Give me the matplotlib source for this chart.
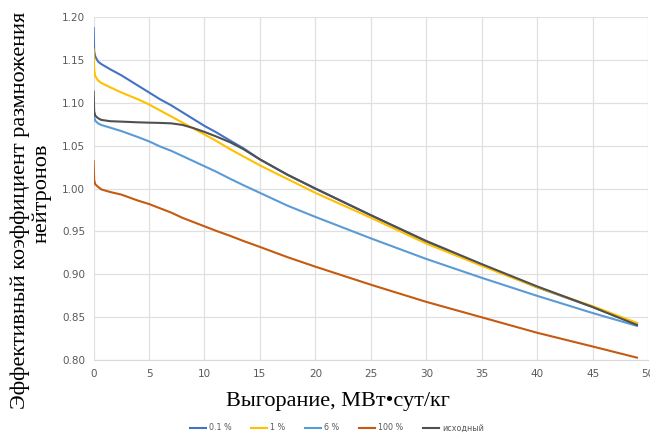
import matplotlib.pyplot as plt
import numpy as np

# burnup, MW*day/kg
x = [0, 0.05, 0.15, 0.4, 0.7, 1.5, 2.5, 4, 5, 6, 7, 8, 9, 10, 11, 12.3, 13.5,
     15, 17.5, 20, 25, 30, 35, 40, 45, 49]

k_01 = [1.187, 1.160, 1.154, 1.148, 1.145, 1.139, 1.132, 1.120, 1.112, 1.104, 1.097,
        1.089, 1.081, 1.073, 1.066, 1.056, 1.047, 1.034, 1.016, 1.000, 0.969, 0.938,
        0.911, 0.885, 0.862, 0.842]
k_1 = [1.162, 1.138, 1.131, 1.126, 1.123, 1.118, 1.112, 1.104, 1.098, 1.091, 1.084,
       1.077, 1.070, 1.063, 1.056, 1.046, 1.0375, 1.027, 1.011, 0.995, 0.966, 0.936,
       0.910, 0.885, 0.863, 0.8435]
k_6 = [1.086, 1.083, 1.079, 1.076, 1.074, 1.071, 1.067, 1.060, 1.055, 1.049, 1.044,
       1.038, 1.032, 1.026, 1.020, 1.0115, 1.004, 0.995, 0.980, 0.967, 0.942, 0.918,
       0.896, 0.875, 0.855, 0.840]
k_100 = [1.032, 1.010, 1.005, 1.002, 0.999, 0.996, 0.993, 0.986, 0.982, 0.977, 0.972,
         0.966, 0.961, 0.956, 0.951, 0.945, 0.939, 0.932, 0.920, 0.909, 0.888, 0.868,
         0.850, 0.832, 0.816, 0.803]
k_init = [1.113, 1.090, 1.085, 1.082, 1.080, 1.0785, 1.078, 1.0772, 1.0768, 1.0765,
          1.076, 1.0742, 1.0705, 1.066, 1.061, 1.054, 1.046, 1.034, 1.016, 1.000,
          0.969, 0.939, 0.912, 0.886, 0.862, 0.841]

series = [k_01, k_1, k_6, k_100, k_init]
names = ["0.1 %", "1 %", "6 %", "100 %", "исходный"]
colors = ["#4472C4", "#FFC000", "#5B9BD5", "#C55A11", "#505050"]

fig = plt.figure(figsize=(6.5, 4.34), dpi=100)
ax = fig.add_axes([0.144, 0.170, 0.853, 0.791])

for y, nm, c in zip(series, names, colors):
    ax.plot(x, y, color=c, lw=1.5, label=nm)

ax.set_xlim(0, 50)
ax.set_ylim(0.80, 1.20)
ax.set_xticks(np.arange(0, 51, 5))
yt = np.arange(0.80, 1.201, 0.05)
ax.set_yticks(yt)
ax.set_yticklabels([f"{v:.2f}" for v in yt])
ax.grid(True, color="#E0E0E0", lw=0.9)
ax.set_axisbelow(True)
for s in ["top", "right", "left"]:
    ax.spines[s].set_visible(False)
ax.spines["bottom"].set_color("#D9D9D9")
ax.tick_params(length=0, labelsize=7.5, labelcolor="#595959", pad=6)

# axis titles placed by hand like in the original
serif = "Liberation Serif"
fig.text(0.031, 0.516, "Эффективный коэффициент размножения", rotation=90,
         family=serif, fontsize=16, ha="center", va="center")
fig.text(0.065, 0.555, "нейтронов", rotation=90,
         family=serif, fontsize=16, ha="center", va="center")
fig.text(0.52, 0.074, "Выгорание, МВт•сут/кг", family=serif, fontsize=16,
         ha="center", va="center")

fig.legend(loc="center", bbox_to_anchor=(0.518, 0.014), ncol=5, frameon=False,
           fontsize=5.8, handlelength=2.0, handletextpad=0.4, columnspacing=2.4,
           labelcolor="#595959", borderpad=0)

fig.savefig("out.png", dpi=100)
